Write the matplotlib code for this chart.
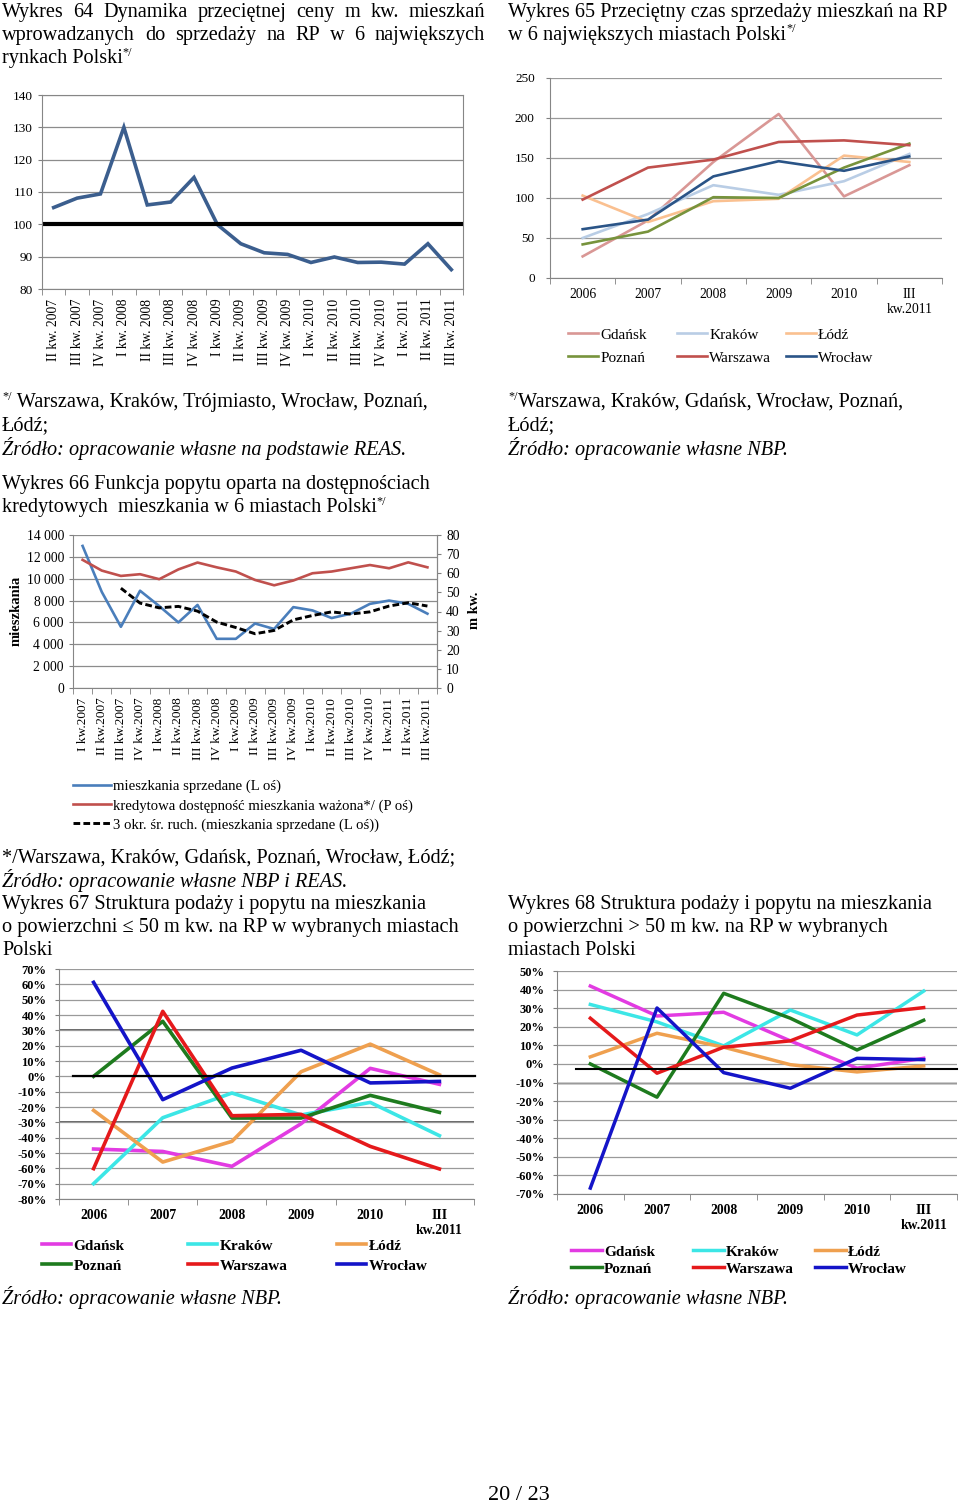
import numpy as np
import pandas as pd
import matplotlib
matplotlib.use('Agg')
import matplotlib.pyplot as plt
from matplotlib.ticker import FuncFormatter

plt.rcParams['font.family'] = ['Liberation Serif', 'DejaVu Serif']

W, H = 960, 1502

# --- Wykres 64: dynamika ceny m kw.
kw64 = ['II kw. 2007', 'III kw. 2007', 'IV kw. 2007', 'I kw. 2008', 'II kw. 2008', 'III kw. 2008',
        'IV kw. 2008', 'I kw. 2009', 'II kw. 2009', 'III kw. 2009', 'IV kw. 2009', 'I kw. 2010',
        'II kw. 2010', 'III kw. 2010', 'IV kw. 2010', 'I kw. 2011', 'II kw. 2011', 'III kw. 2011']
dyn64 = [105.2, 108.1, 109.4, 130.0, 106.0, 106.9, 114.5, 99.9, 94.0, 91.2, 90.7, 88.2,
         89.9, 88.2, 88.3, 87.7, 94.0, 86.0]

# --- Wykres 65: czas sprzedazy (dni)
lata = ['2006', '2007', '2008', '2009', '2010', 'III\nkw.2011']
miasta = ['Gdańsk', 'Kraków', 'Łódź', 'Poznań', 'Warszawa', 'Wrocław']
czas_gdansk = [27, 72, 145, 205, 102, 141]
czas_krakow = [50, 80, 116, 104, 121, 155]
czas_lodz = [103, 70, 96, 99, 153, 145]
czas_poznan = [42, 58, 101, 100, 138, 168]
czas_warszawa = [98, 138, 148, 170, 172, 166]
czas_wroclaw = [61, 73, 127, 146, 134, 152]

# --- Wykres 66: funkcja popytu
kw66 = ['I kw.2007', 'II kw.2007', 'III kw.2007', 'IV kw.2007', 'I kw.2008', 'II kw.2008',
        'III kw.2008', 'IV kw.2008', 'I kw.2009', 'II kw.2009', 'III kw.2009', 'IV kw.2009',
        'I kw.2010', 'II kw.2010', 'III kw.2010', 'IV kw.2010', 'I kw.2011', 'II kw.2011', 'III kw.2011']
sprzedane66 = [13000, 8800, 5600, 8900, 7500, 6000, 7600, 4500, 4500, 5900, 5400, 7400,
               7100, 6400, 6800, 7700, 8000, 7700, 6800]
dostepnosc66 = [67.0, 61.4, 58.6, 59.5, 56.9, 62.0, 65.6, 63.1, 60.9, 56.5, 53.7, 56.2,
                60.0, 60.9, 62.6, 64.3, 62.6, 65.7, 63.1]

# --- Wykres 67: struktura <= 50 m kw. (%)
s67_gdansk = [-47.4, -49.0, -58.7, -30.9, 5.2, -5.2]
s67_krakow = [-70.0, -27.0, -10.9, -25.2, -17.0, -38.7]
s67_lodz = [-22.2, -55.9, -42.4, 3.0, 21.0, 1.0]
s67_poznan = [0.0, 35.9, -27.2, -27.2, -12.4, -23.5]
s67_warszawa = [-60.2, 42.4, -25.7, -24.8, -45.7, -60.4]
s67_wroclaw = [61.3, -15.2, 5.4, 17.0, -4.3, -3.3]

# --- Wykres 68: struktura > 50 m kw. (%)
s68_gdansk = [41.9, 25.8, 27.8, 12.4, -2.3, 3.0]
s68_krakow = [32.0, 22.6, 9.7, 29.0, 15.6, 39.2]
s68_lodz = [3.8, 16.5, 9.0, -0.4, -4.3, -1.1]
s68_poznan = [0.0, -17.9, 38.0, 24.6, 7.5, 23.5]
s68_warszawa = [24.6, -5.0, 9.0, 12.4, 26.3, 30.3]
s68_wroclaw = [-66.8, 30.1, -4.7, -13.1, 3.0, 2.3]

kol65 = ['#D99795', '#B9CDE5', '#FAC090', '#77933C', '#C0504D', '#2A5487']
kol67 = ['#E23BE2', '#3CE6E6', '#EFA04F', '#1E7B1E', '#E5191B', '#1414C8']

fig = plt.figure(figsize=(W / 100, H / 100), dpi=100)
rend = fig.canvas.get_renderer()

FS = 14.6  # tekst dokumentu


def px_axes(l, t, r, b):
    return fig.add_axes([l / W, 1 - b / H, (r - l) / W, (b - t) / H])


def runs(x, y, parts, size=FS, style='normal'):
    # tekst z indeksem gornym "*/"
    y += 1.5
    for s, sup in parts:
        fs = size * 0.6 if sup else size
        dy = -6 if sup else 0
        t = fig.text(x / W, 1 - (y + dy) / H, s, fontsize=fs, va='center', style=style)
        x += t.get_window_extent(rend).width


def justified(line, x0, x1, y, size=FS):
    y += 1.5
    words = line.split()
    arts = [fig.text(0, 1 - y / H, w, fontsize=size, va='center') for w in words]
    widths = [a.get_window_extent(rend).width for a in arts]
    gap = (x1 - x0 - sum(widths)) / (len(words) - 1)
    x = x0
    for a, w in zip(arts, widths):
        a.set_x(x / W)
        x += w + gap


def kategorie(ax, labels, rot=0, size=9, weight='normal', tick=4):
    n = len(labels)
    ax.set_xlim(-0.5, n - 0.5)
    ax.set_xticks(range(n))
    ax.set_xticklabels(labels, rotation=rot, fontsize=size, fontweight=weight,
                       va='top', ha='center', multialignment='center')
    ax.set_xticks(np.arange(-0.5, n), minor=True)
    ax.tick_params(axis='x', which='major', length=0, pad=tick + 3)
    ax.tick_params(axis='x', which='minor', length=tick, color='#808080')


def styl(ax, spines=('left', 'bottom')):
    for k, s in ax.spines.items():
        s.set_visible(k in spines)
        s.set_color('#868686')
    ax.set_axisbelow(True)
    ax.tick_params(axis='y', length=3, color='#808080')


def legenda_kolumny(lines, xs, ytop, size, weight='normal', hl=2.0, lsp=0.35):
    for c, x in enumerate(xs):
        fig.legend(handles=[lines[c], lines[c + 3]], loc='upper left',
                   bbox_to_anchor=(x / W, 1 - ytop / H), frameon=False, borderpad=0,
                   borderaxespad=0, handlelength=hl, handletextpad=0.15, labelspacing=lsp,
                   prop={'size': size, 'weight': weight})


# ================= Wykres 64
justified('Wykres 64 Dynamika przeciętnej ceny m kw. mieszkań', 2, 485, 11)
justified('wprowadzanych do sprzedaży na RP w 6 największych', 2, 485, 34)
runs(2, 57, [('rynkach Polski', False), ('*/', True)])

ax = px_axes(42, 95, 463, 289)
styl(ax, spines=('left', 'bottom', 'right', 'top'))
x64 = np.arange(len(kw64))
ax.plot(x64, dyn64, color='#3B5E8E', lw=2.6, solid_joinstyle='miter')
ax.axhline(100, color='black', lw=3)
ax.set_ylim(80, 140)
ax.set_yticks(range(80, 141, 10))
ax.grid(axis='y', color='#8C8C8C', lw=0.9)
ax.tick_params(axis='y', labelsize=9.5)
kategorie(ax, kw64, rot=90, size=9.8, tick=4)

# ================= Wykres 65
runs(508, 11, [('Wykres 65 Przeciętny czas sprzedaży mieszkań na RP', False)])
runs(508, 34, [('w 6 największych miastach Polski', False), ('*/', True)])

ax = px_axes(550, 78, 942, 278)
styl(ax)
x65 = np.arange(len(lata))
serie65 = [czas_gdansk, czas_krakow, czas_lodz, czas_poznan, czas_warszawa, czas_wroclaw]
linie = []
for m, v, c in zip(miasta, serie65, kol65):
    linie.append(ax.plot(x65, v, color=c, lw=1.9, label=m)[0])
ax.set_ylim(0, 250)
ax.set_yticks(range(0, 251, 50))
ax.grid(axis='y', color='#9A9A9A', lw=0.9)
ax.tick_params(axis='y', labelsize=9.5, pad=8)
kategorie(ax, lata, size=9.8, tick=4)
legenda_kolumny(linie, [568, 677, 786], 328, 11, hl=1.95, lsp=0.6)

runs(508, 401, [('*/', True), ('Warszawa, Kraków, Gdańsk, Wrocław, Poznań,', False)])
runs(508, 424, [('Łódź;', False)])
runs(508, 447, [('Źródło: opracowanie własne NBP.', False)], style='italic')

# ================= Wykres 66
runs(2, 401, [('*/', True), (' Warszawa, Kraków, Trójmiasto, Wrocław, Poznań,', False)])
runs(2, 424, [('Łódź;', False)])
runs(2, 447, [('Źródło: opracowanie własne na podstawie REAS.', False)], style='italic')
runs(2, 483, [('Wykres 66 Funkcja popytu oparta na dostępnościach', False)])
runs(2, 506, [('kredytowych  mieszkania w 6 miastach Polski', False), ('*/', True)])

ax = px_axes(73, 535, 437, 688)
styl(ax, spines=('left', 'bottom', 'right'))
x66 = np.arange(len(kw66))
sr_ruch = pd.Series(sprzedane66).rolling(3).mean()
l1, = ax.plot(x66, sprzedane66, color='#4A7EBB', lw=1.9, label='mieszkania sprzedane (L oś)')
l3, = ax.plot(x66, sr_ruch, color='black', lw=2.1, dashes=(2.3, 1.1),
              label='3 okr. śr. ruch. (mieszkania sprzedane (L oś))')
ax.set_ylim(0, 14000)
ax.set_yticks(range(0, 14001, 2000))
ax.yaxis.set_major_formatter(FuncFormatter(lambda v, p: f'{int(v):,}'.replace(',', ' ')))
ax.grid(axis='y', color='#8C8C8C', lw=0.9)
ax.tick_params(axis='y', labelsize=9.8)
kategorie(ax, kw66, rot=90, size=9.6, tick=4)
ax2 = ax.twinx()
for k, s in ax2.spines.items():
    s.set_visible(k == 'right')
    s.set_color('#868686')
l2, = ax2.plot(x66, dostepnosc66, color='#C0504D', lw=1.9,
               label='kredytowa dostępność mieszkania ważona*/ (P oś)')
ax2.set_ylim(0, 80)
ax2.set_yticks(range(0, 81, 10))
ax2.tick_params(axis='y', labelsize=9.8, length=3, color='#808080')
fig.text(16 / W, 1 - 611 / H, 'mieszkania', rotation=90, fontsize=10.5, fontweight='bold',
         ha='center', va='center')
fig.text(474 / W, 1 - 610 / H, 'm kw.', rotation=90, fontsize=10.5, fontweight='bold',
         ha='center', va='center')
fig.legend(handles=[l1, l2, l3], loc='upper left', bbox_to_anchor=(73 / W, 1 - 780 / H),
           frameon=False, borderpad=0, borderaxespad=0, handlelength=2.6, handletextpad=0.12,
           labelspacing=0.38, prop={'size': 10.6})

runs(2, 856, [('*/Warszawa, Kraków, Gdańsk, Poznań, Wrocław, Łódź;', False)])
runs(2, 879, [('Źródło: opracowanie własne NBP i REAS.', False)], style='italic')

# ================= Wykres 67
runs(2, 903, [('Wykres 67 Struktura podaży i popytu na mieszkania', False)])
runs(2, 926, [('o powierzchni ≤ 50 m kw. na RP w wybranych miastach', False)])
runs(2, 949, [('Polski', False)])

pct = FuncFormatter(lambda v, p: f'{int(round(v))}%')

ax = px_axes(59, 969, 474, 1199)
styl(ax)
serie67 = [s67_gdansk, s67_krakow, s67_lodz, s67_poznan, s67_warszawa, s67_wroclaw]
linie = []
for m, v, c in zip(miasta, serie67, kol67):
    linie.append(ax.plot(x65, v, color=c, lw=2.6, label=m)[0])
ax.set_ylim(-80, 70)
ax.set_yticks(range(-80, 71, 10))
ax.yaxis.set_major_formatter(pct)
ax.grid(axis='y', color='#9A9A9A', lw=0.9)
for g in (30, -30):
    ax.axhline(g, color='#3A3A3A', lw=1.1, zorder=0.5)
ax.axhline(0, xmin=0.033, xmax=1.003, color='black', lw=1.6, clip_on=False)
ax.tick_params(axis='y', labelsize=9, pad=6)
for t in ax.get_yticklabels():
    t.set_fontweight('bold')
kategorie(ax, lata, size=9.8, weight='bold', tick=4)
legenda_kolumny(linie, [42, 188, 337], 1239, 11, weight='bold', hl=1.9, lsp=0.42)

runs(2, 1296, [('Źródło: opracowanie własne NBP.', False)], style='italic')

# ================= Wykres 68
runs(508, 903, [('Wykres 68 Struktura podaży i popytu na mieszkania', False)])
runs(508, 926, [('o powierzchni > 50 m kw. na RP w wybranych', False)])
runs(508, 949, [('miastach Polski', False)])

ax = px_axes(557, 971, 957, 1194)
styl(ax)
serie68 = [s68_gdansk, s68_krakow, s68_lodz, s68_poznan, s68_warszawa, s68_wroclaw]
linie = []
for m, v, c in zip(miasta, serie68, kol67):
    linie.append(ax.plot(x65, v, color=c, lw=2.5, label=m)[0])
ax.set_ylim(-70, 50)
ax.set_yticks(range(-70, 51, 10))
ax.yaxis.set_major_formatter(pct)
ax.grid(axis='y', color='#9A9A9A', lw=0.9)
ax.axhline(-10, color='#202020', lw=1.0, zorder=0.5)
ax.axhline(-2.7, xmin=0.047, xmax=1.0, color='black', lw=1.5, clip_on=False)
ax.tick_params(axis='y', labelsize=9, pad=6)
for t in ax.get_yticklabels():
    t.set_fontweight('bold')
kategorie(ax, lata, size=9.8, weight='bold', tick=4)
legenda_kolumny(linie, [571, 693, 815], 1245, 11, weight='bold', hl=2.0, lsp=0.22)

runs(508, 1296, [('Źródło: opracowanie własne NBP.', False)], style='italic')

fig.text(519 / W, 1 - 1495 / H, '20 / 23', fontsize=16, ha='center', va='center')

fig.savefig('out.png', dpi=100)
